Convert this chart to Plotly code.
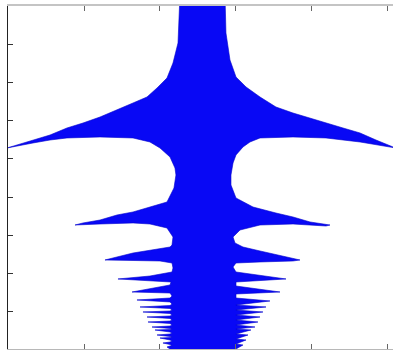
import plotly.graph_objects as go

# Outline of the blue region (x: 0..5, y: 0..9 tick units)
# left side, from top to bottom
left_x = [2.263, 2.250, 2.237, 2.171, 2.092, 1.961, 1.829, 1.645, 1.434, 1.211,
          0.987, 0.776, 0.553, 0.329, 0.026, -0.013,
          0.329, 0.553, 0.776, 1.211, 1.645, 1.868, 2.000, 2.132, 2.197, 2.210,
          2.184, 2.092, 1.868, 1.645, 1.434, 1.211, 0.987, 0.882,
          1.211, 1.645, 1.868, 2.092, 2.171, 2.158,
          2.132, 1.868, 1.645, 1.434, 1.276,
          1.645, 2.000, 2.158, 2.171,
          2.158, 1.868, 1.447,
          1.868, 2.145,
          2.132, 1.632, 2.132,
          2.158, 2.132, 1.697, 2.132,
          2.158, 2.132, 1.737, 2.132,
          2.158, 2.132, 1.776, 2.132,
          2.158, 2.132, 1.829, 2.132,
          2.158, 2.132, 1.842, 2.132,
          2.158, 2.132, 1.895, 2.132,
          2.158, 2.132, 1.934, 2.132,
          2.158, 2.132, 1.961, 2.132,
          2.158, 2.132, 2.000, 2.132,
          2.158, 2.132, 2.039, 2.132,
          2.158, 2.132, 2.092, 2.132, 2.132]
left_y = [9.30, 8.298, 8.037, 7.513, 7.120, 6.859, 6.623, 6.466, 6.283, 6.099,
          5.942, 5.812, 5.628, 5.497, 5.314, 5.288,
          5.419, 5.497, 5.550, 5.576, 5.550, 5.445, 5.288, 5.052, 4.764, 4.581,
          4.241, 3.874, 3.743, 3.613, 3.534, 3.403, 3.325, 3.272,
          3.298, 3.325, 3.298, 3.194, 2.958, 2.749,
          2.696, 2.618, 2.539, 2.435, 2.356,
          2.343, 2.330, 2.277, 2.147,
          2.042, 1.937, 1.859,
          1.806, 1.780,
          1.702, 1.518, 1.492,
          1.414, 1.361, 1.309, 1.257,
          1.204, 1.165, 1.126, 1.086,
          1.047, 1.021, 0.995, 0.955,
          0.916, 0.890, 0.864, 0.825,
          0.785, 0.759, 0.733, 0.694,
          0.654, 0.628, 0.602, 0.563,
          0.550, 0.537, 0.524, 0.471,
          0.445, 0.419, 0.393, 0.353,
          0.340, 0.327, 0.314, 0.262,
          0.236, 0.209, 0.183, 0.144,
          0.118, 0.105, 0.079, 0.026, -0.26]

# right side, from bottom to top
right_x = [3.013, 3.000, 3.092, 3.000, 3.132, 3.000, 3.158, 3.000, 3.197, 3.000,
           3.250, 3.000, 3.289, 3.000, 3.316, 3.000, 3.355, 3.000, 3.395, 3.000,
           3.447, 3.000,
           3.000, 3.579, 3.000,
           3.000, 3.658, 3.000,
           2.961, 3.000, 3.316, 3.750, 3.842, 3.526, 3.316, 3.092,
           2.987, 2.961, 3.053, 3.316, 3.750, 4.184, 4.237, 3.974, 3.750, 3.526,
           3.224, 3.000, 2.934, 2.934,
           2.961, 3.000, 3.092, 3.184, 3.316, 3.750, 4.184, 4.632, 5.100,
           4.842, 4.632, 4.408, 4.184, 3.974, 3.750, 3.526, 3.316, 3.132, 3.000,
           2.921, 2.868, 2.855]
right_y = [-0.26, 0.026, 0.131, 0.157, 0.262, 0.288, 0.393, 0.419, 0.524, 0.550,
           0.602, 0.654, 0.733, 0.785, 0.864, 0.916, 0.995, 1.047, 1.126, 1.178,
           1.283, 1.361,
           1.466, 1.518, 1.675,
           1.780, 1.859, 2.042,
           2.173, 2.277, 2.304, 2.330, 2.356, 2.487, 2.592, 2.696,
           2.801, 2.958, 3.141, 3.272, 3.298, 3.246, 3.272, 3.351, 3.482, 3.586,
           3.743, 3.979, 4.319, 4.581,
           4.895, 5.105, 5.314, 5.445, 5.550, 5.576, 5.550, 5.445, 5.288,
           5.497, 5.681, 5.812, 5.942, 6.073, 6.204, 6.361, 6.623, 6.885, 7.147,
           7.592, 8.298, 9.30]

xs = left_x + right_x + [left_x[0]]
ys = left_y + right_y + [left_y[0]]

fig = go.Figure()
fig.add_trace(go.Scatter(
    x=xs, y=ys, mode="lines", fill="toself",
    fillcolor="rgb(8,8,245)",
    line=dict(color="rgb(0,0,205)", width=0.6),
    hoverinfo="skip", showlegend=False,
))
# invisible trace to activate the top axis
fig.add_trace(go.Scatter(x=[0], y=[0], xaxis="x2", mode="markers",
                         marker=dict(opacity=0), showlegend=False, hoverinfo="skip"))

fig.update_layout(
    width=393, height=350,
    margin=dict(l=8, r=0, t=6, b=1),
    paper_bgcolor="white", plot_bgcolor="white",
    xaxis=dict(range=[0, 5.066], tickvals=[1, 2, 3, 4, 5], showticklabels=False,
               ticks="inside", ticklen=5, tickcolor="#666", showgrid=False,
               zeroline=False, showline=True, linecolor="#b8b8b8", linewidth=1),
    xaxis2=dict(range=[0, 5.066], overlaying="x", side="top",
                tickvals=[1, 2, 3, 4, 5], showticklabels=False,
                ticks="inside", ticklen=5, tickcolor="#666", showgrid=False,
                zeroline=False, showline=True, linecolor="#c4c4c4", linewidth=2),
    yaxis=dict(range=[0.026, 9.005], tickvals=[1, 2, 3, 4, 5, 6, 7, 8],
               showticklabels=False, ticks="inside", ticklen=5, tickcolor="#333",
               showgrid=False, zeroline=False, showline=True,
               linecolor="#222", linewidth=1),
)

fig.write_html("out.html", config={"displayModeBar": False},
               post_script="document.body.style.margin='0';document.body.style.overflow='hidden';")
